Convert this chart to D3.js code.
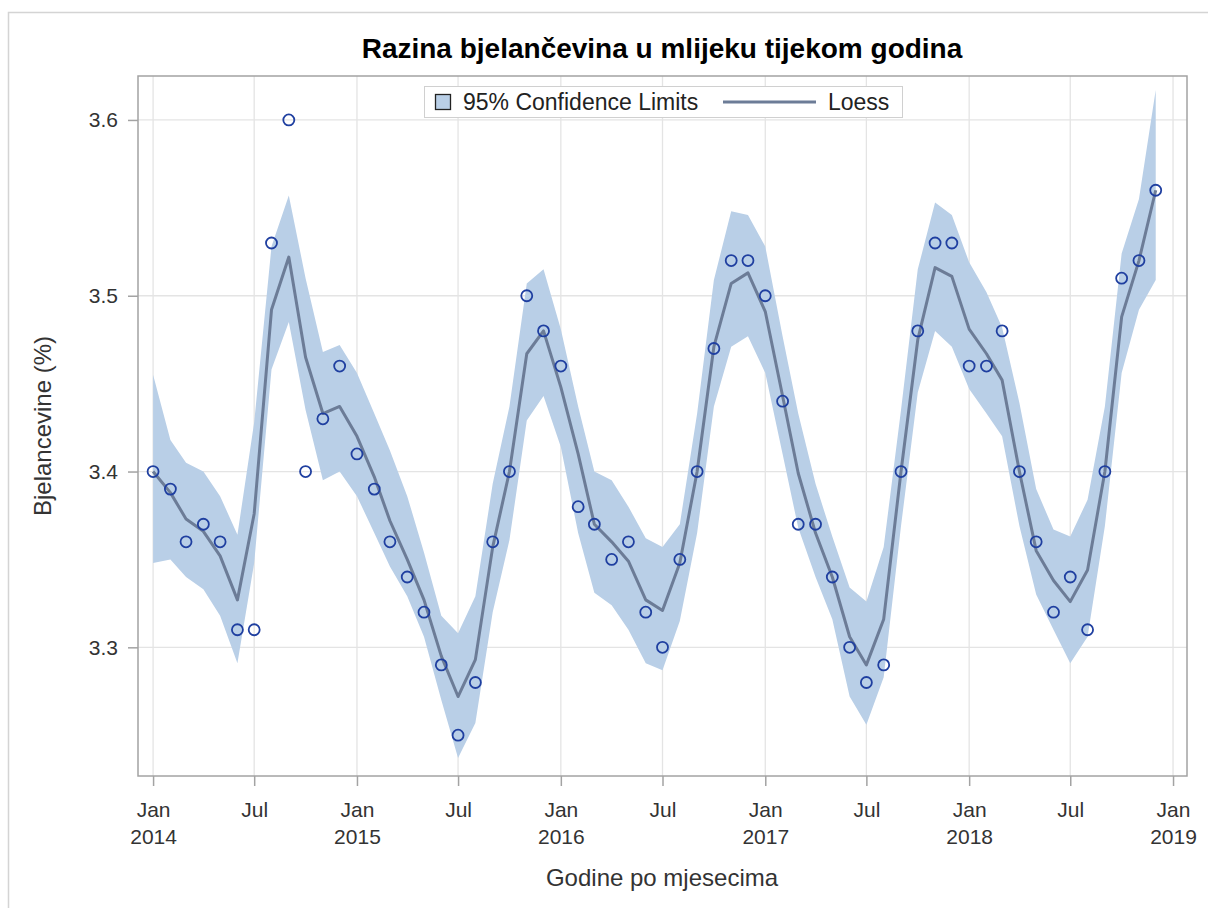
<!DOCTYPE html>
<html>
<head>
<meta charset="utf-8">
<script src="https://cdn.jsdelivr.net/npm/d3@7"></script>
<style>
  html, body { margin: 0; padding: 0; background: #fff; }
  svg { display: block; font-family: "Liberation Sans", Arial, sans-serif; }
</style>
</head>
<body>
<svg id="chart" width="1208" height="908"></svg>
<script>
// ---- data ----
const months = [
  "2014-01","2014-02","2014-03","2014-04","2014-05","2014-06","2014-07","2014-08","2014-09","2014-10","2014-11","2014-12",
  "2015-01","2015-02","2015-03","2015-04","2015-05","2015-06","2015-07","2015-08","2015-09","2015-10","2015-11","2015-12",
  "2016-01","2016-02","2016-03","2016-04","2016-05","2016-06","2016-07","2016-08","2016-09","2016-10","2016-11","2016-12",
  "2017-01","2017-02","2017-03","2017-04","2017-05","2017-06","2017-07","2017-08","2017-09","2017-10","2017-11","2017-12",
  "2018-01","2018-02","2018-03","2018-04","2018-05","2018-06","2018-07","2018-08","2018-09","2018-10","2018-11","2018-12"
];
const protein = [
  3.40,3.39,3.36,3.37,3.36,3.31,3.31,3.53,3.60,3.40,3.43,3.46,
  3.41,3.39,3.36,3.34,3.32,3.29,3.25,3.28,3.36,3.40,3.50,3.48,
  3.46,3.38,3.37,3.35,3.36,3.32,3.30,3.35,3.40,3.47,3.52,3.52,
  3.50,3.44,3.37,3.37,3.34,3.30,3.28,3.29,3.40,3.48,3.53,3.53,
  3.46,3.46,3.48,3.40,3.36,3.32,3.34,3.31,3.40,3.51,3.52,3.56
];
const loess = [
  3.400,3.388,3.373,3.366,3.352,3.327,3.376,3.492,3.522,3.465,3.433,3.437,
  3.420,3.397,3.372,3.350,3.327,3.295,3.272,3.293,3.357,3.400,3.467,3.480,
  3.448,3.410,3.370,3.360,3.349,3.327,3.321,3.348,3.400,3.471,3.507,3.513,
  3.491,3.443,3.399,3.365,3.340,3.306,3.290,3.316,3.400,3.475,3.516,3.511,
  3.481,3.467,3.452,3.400,3.355,3.338,3.326,3.344,3.400,3.488,3.520,3.560
];
const lowerCL = [
  3.348,3.350,3.340,3.333,3.318,3.291,3.348,3.458,3.485,3.435,3.395,3.400,
  3.386,3.365,3.346,3.329,3.306,3.270,3.237,3.257,3.320,3.361,3.429,3.443,
  3.414,3.365,3.331,3.324,3.310,3.291,3.287,3.315,3.365,3.437,3.471,3.477,
  3.456,3.410,3.368,3.340,3.316,3.272,3.256,3.283,3.369,3.445,3.480,3.471,
  3.447,3.433,3.420,3.369,3.330,3.310,3.291,3.306,3.369,3.456,3.492,3.509
];
const upperCL = [
  3.455,3.418,3.405,3.400,3.386,3.364,3.428,3.528,3.557,3.510,3.468,3.472,
  3.456,3.433,3.412,3.386,3.354,3.318,3.308,3.329,3.393,3.437,3.507,3.515,
  3.481,3.437,3.400,3.395,3.380,3.362,3.357,3.370,3.433,3.509,3.548,3.546,
  3.528,3.477,3.433,3.393,3.363,3.334,3.326,3.357,3.435,3.515,3.553,3.546,
  3.519,3.502,3.482,3.439,3.390,3.367,3.363,3.384,3.437,3.524,3.555,3.617
];
const yTicks = [3.3, 3.4, 3.5, 3.6];
const xTickDates = ["2014-01","2014-07","2015-01","2015-07","2016-01","2016-07","2017-01","2017-07","2018-01","2018-07","2019-01"];
const monthNames = ["Jan","Feb","Mar","Apr","May","Jun","Jul","Aug","Sep","Oct","Nov","Dec"];
const titleText = "Razina bjelančevina u mlijeku tijekom godina";
const xTitle = "Godine po mjesecima";
const yTitle = "Bjelancevine (%)";
const legendLabels = ["95% Confidence Limits", "Loess"];

// ---- layout ----
const plot = { left: 138, right: 1187, top: 76, bottom: 776 };
const parse = s => { const [y, m] = s.split("-").map(Number); return new Date(Date.UTC(y, m - 1, 1)); };

const x = d3.scaleUtc()
  .domain([new Date(Date.UTC(2013, 11, 5)), new Date(Date.UTC(2019, 0, 26))])
  .range([plot.left, plot.right]);
const y = d3.scaleLinear()
  .domain([3.2268, 3.625])
  .range([plot.bottom, plot.top]);

const data = months.map((m, i) => ({
  date: parse(m), v: protein[i], fit: loess[i], lo: lowerCL[i], hi: upperCL[i]
}));

const svg = d3.select("#chart");
const FONT = "Liberation Sans, Arial, sans-serif";

// outer frame (partially visible)
svg.append("rect").attr("x", 8.5).attr("y", 12.5).attr("width", 1400).attr("height", 1000)
  .attr("fill", "none").attr("stroke", "#d4d4d4").attr("stroke-width", 1.5);

// gridlines
const gridG = svg.append("g");
gridG.selectAll("line.gx").data(xTickDates.map(parse)).join("line")
  .attr("x1", d => x(d)).attr("x2", d => x(d))
  .attr("y1", plot.top).attr("y2", plot.bottom)
  .attr("stroke", "#e4e4e4").attr("stroke-width", 1.3);
gridG.selectAll("line.gy").data(yTicks).join("line")
  .attr("x1", plot.left).attr("x2", plot.right)
  .attr("y1", d => y(d)).attr("y2", d => y(d))
  .attr("stroke", "#e4e4e4").attr("stroke-width", 1.3);

// confidence band
const area = d3.area().x(d => x(d.date)).y0(d => y(d.lo)).y1(d => y(d.hi)).curve(d3.curveLinear);
svg.append("path").datum(data).attr("d", area).attr("fill", "#b9cfe7");

// loess line
const line = d3.line().x(d => x(d.date)).y(d => y(d.fit)).curve(d3.curveLinear);
svg.append("path").datum(data).attr("d", line)
  .attr("fill", "none").attr("stroke", "#6c7c97").attr("stroke-width", 3)
  .attr("stroke-linejoin", "round");

// points
svg.append("g").selectAll("circle").data(data).join("circle")
  .attr("cx", d => x(d.date)).attr("cy", d => y(d.v)).attr("r", 5.5)
  .attr("fill", "none").attr("stroke", "#1f3fa0").attr("stroke-width", 1.8);

// plot frame
svg.append("rect").attr("x", plot.left).attr("y", plot.top)
  .attr("width", plot.right - plot.left).attr("height", plot.bottom - plot.top)
  .attr("fill", "none").attr("stroke", "#a3a3a3").attr("stroke-width", 1.5);

// y axis
const yAxis = d3.axisLeft(y).tickValues(yTicks).tickFormat(d3.format(".1f")).tickSize(10).tickPadding(10);
const yg = svg.append("g").attr("transform", `translate(${plot.left},0)`).call(yAxis);
yg.select(".domain").remove();
yg.selectAll(".tick line").attr("stroke", "#a3a3a3").attr("stroke-width", 1.5);
yg.selectAll(".tick text").attr("font-size", 21).attr("fill", "#333").attr("font-family", FONT);

// x axis
const xAxis = d3.axisBottom(x).tickValues(xTickDates.map(parse)).tickSize(10).tickFormat("");
const xg = svg.append("g").attr("transform", `translate(0,${plot.bottom})`).call(xAxis);
xg.select(".domain").remove();
xg.selectAll(".tick line").attr("stroke", "#a3a3a3").attr("stroke-width", 1.5);
xg.selectAll(".tick").each(function(d) {
  const t = d3.select(this).append("text").attr("fill", "#333").attr("font-size", 21)
    .attr("text-anchor", "middle").attr("font-family", FONT);
  t.append("tspan").attr("x", 0).attr("y", 41).text(monthNames[d.getUTCMonth()]);
  if (d.getUTCMonth() === 0) t.append("tspan").attr("x", 0).attr("y", 68).text(d.getUTCFullYear());
});

// titles
svg.append("text").attr("x", 662).attr("y", 58).attr("text-anchor", "middle")
  .attr("font-size", 28).attr("font-weight", "bold").attr("fill", "#000").text(titleText);
svg.append("text").attr("x", 662).attr("y", 886).attr("text-anchor", "middle")
  .attr("font-size", 24).attr("fill", "#333").text(xTitle);
svg.append("text").attr("transform", `translate(51,${(plot.top + plot.bottom) / 2}) rotate(-90)`)
  .attr("text-anchor", "middle").attr("font-size", 24).attr("fill", "#333").text(yTitle);

// legend
const lg = svg.append("g");
lg.append("rect").attr("x", 424.5).attr("y", 86.5).attr("width", 478).attr("height", 31)
  .attr("fill", "#fff").attr("stroke", "#d0d0d0").attr("stroke-width", 1);
lg.append("rect").attr("x", 435.5).attr("y", 94.5).attr("width", 15).attr("height", 15)
  .attr("fill", "#b9cfe7").attr("stroke", "#222").attr("stroke-width", 1.3);
lg.append("text").attr("x", 463).attr("y", 110).attr("font-size", 23).attr("fill", "#222").text(legendLabels[0]);
lg.append("line").attr("x1", 723).attr("x2", 816).attr("y1", 102).attr("y2", 102)
  .attr("stroke", "#6c7c97").attr("stroke-width", 3);
lg.append("text").attr("x", 828).attr("y", 110).attr("font-size", 23).attr("fill", "#222").text(legendLabels[1]);
</script>
</body>
</html>
